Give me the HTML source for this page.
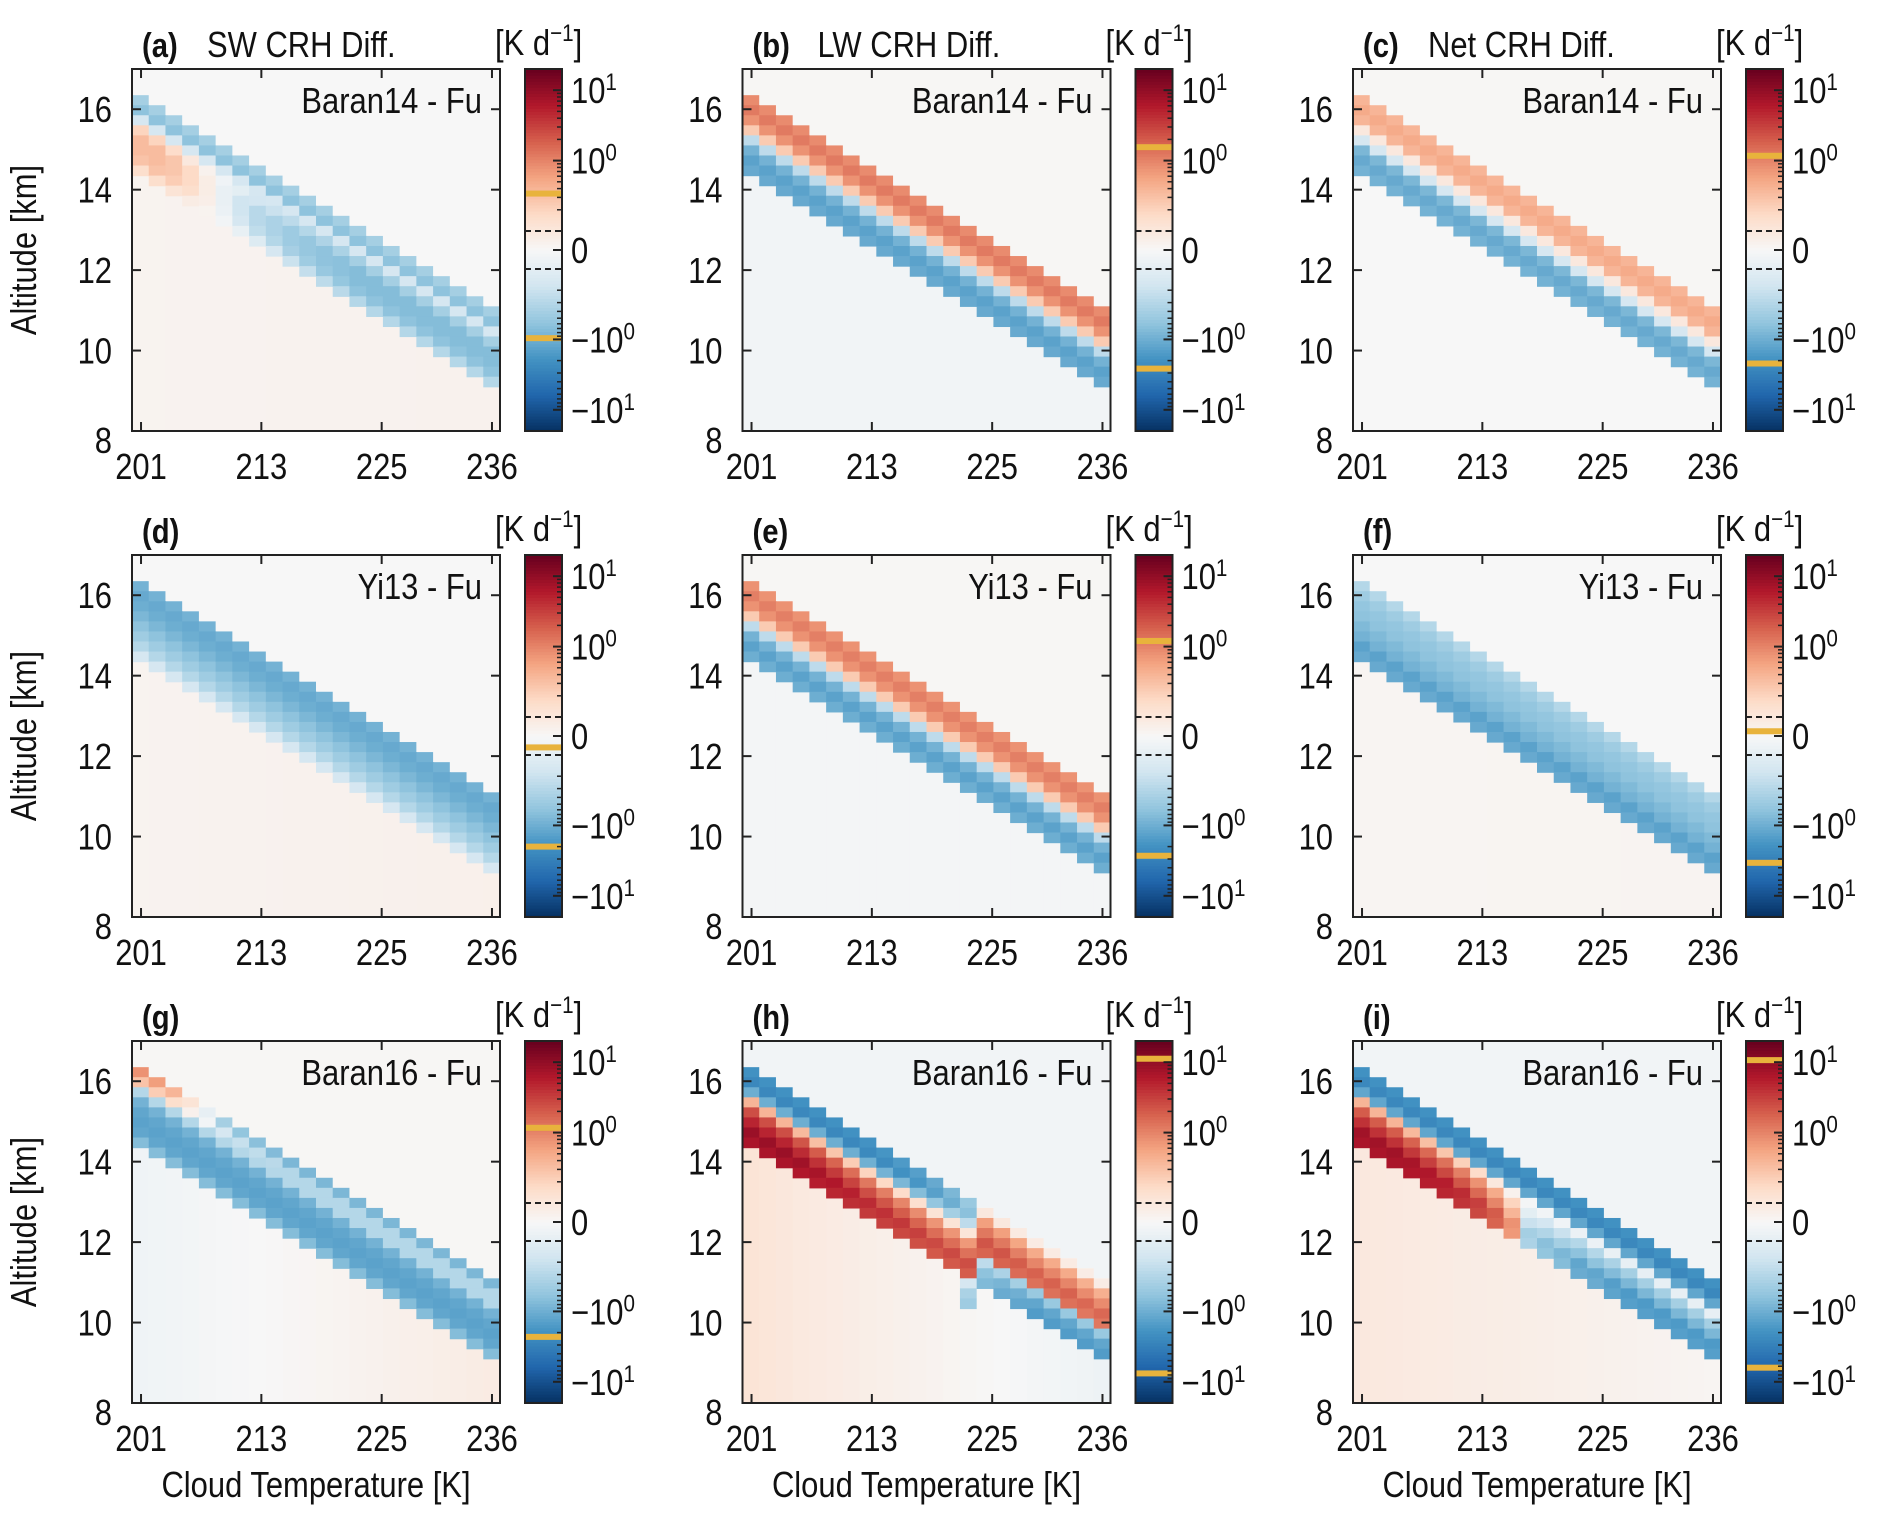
<!DOCTYPE html>
<html><head><meta charset="utf-8">
<style>
html,body{margin:0;padding:0;background:#fff;}
svg text{font-family:"Liberation Sans",sans-serif;fill:#111;}
</style></head>
<body>
<svg id="fig" width="1892" height="1524" viewBox="0 0 1892 1524" xmlns="http://www.w3.org/2000/svg"></svg>
<script>
// ---- shared axis data ----
const xTicks = [201, 213, 225, 236];
const yTicks = [8, 10, 12, 14, 16];
const cbTickVals = [10, 1, 0, -1, -10];
const cbTickLbls = ['10<tspan dy="-13" font-size="24">1</tspan>', '10<tspan dy="-13" font-size="24">0</tspan>', '0', '\u221210<tspan dy="-13" font-size="24">0</tspan>', '\u221210<tspan dy="-13" font-size="24">1</tspan>'];
const colTopKm = [16.35,16.1,15.85,15.6,15.35,15.1,14.85,14.6,14.35,14.1,13.85,13.6,13.35,13.1,12.85,12.6,12.35,12.1,11.85,11.6,11.35,11.1];

// ---- panel (a) ----
const bandA = [-0.4,-0.6,-0.15];
const tailA = [0.2,0.35,0.35,0.3,0.15];
const tailFadeA = [1,1,0.8,0.5,0.2,-0.2,-0.5,-0.8,-1,-1.3,-1.5,-1.7,-1.8,-2,-2,-2,-2,-2,-2,-2,-2,-2];
const bgA = [0, 0.03, 0.04];
const yellowA = [0.34, -0.96];
// ---- panel (b) ----
const bandB = [0.9,1.2,0.8,0.25,-0.25,-0.9,-1.3,-1.1];
const bgB = [0.01, -0.03, -0.03];
const yellowB = [1.55, -2.6];
// ---- panel (c) ----
const bandC = [0.4,0.5,0.4,0.1,-0.15,-0.8,-1.1,-0.9];
const bgC = [0.01, 0.0, 0.0];
const yellowC = [1.17, -2.2];
// ---- panel (d) ----
const bandD = [-0.9,-1.1,-1.0,-0.8,-0.6,-0.45,-0.3,-0.15];
const bgD = [0, 0.03, 0.05];
const yellowD = [-0.06, -2.0];
// ---- panel (e) ----
const bandE = [0.8,1.1,0.8,0.25,-0.25,-0.9,-1.3,-1.0];
const bgE = [0.01, -0.02, -0.02];
const yellowE = [1.2, -2.7];
// ---- panel (f) ----
const bandF = [-0.3,-0.45,-0.55,-0.6,-0.75,-0.9,-1.3,-1.1];
const bgF = [0, 0.02, 0.025];
const yellowF = [0.025, -3.4];
// ---- panel (g) ----
const bandG = [0.8,0.3,-0.3,-0.9,-1.2,-1.3,-1.2,-0.7];
const headFadeG = [1,0.8,0.5,0.15,-0.1,-0.5,-0.7,-0.8,-0.9,-1,-1,-1,-1,-1,-1,-1,-1,-1,-1,-1,-1,-1];
const bgG = [0.01, -0.04, 0.08];
const yellowG = [1.17, -2.3];
// ---- panel (h) ----
const bandH = [-2,-2.5,-1.0];
const headFadeH = [1,1,1,1,1,1,1,0.95,0.9,0.8,0.7,0.55,0.4,0.25,0,0,0,0,0,0,0,0];
const tailH = [0.4,2.5,5,9,7];
const tailFadeH = [1,1,1,0.9,0.8,0.7,0.6,0.5,0.45,0.4,0.35,0.3,0.3,0.28,0.25,0.25,0.22,0.2,0.2,0.2,0.18,0.18];
const tail2H = [-0.5,-1.2,-1.5];
const tail2FadeH = [0,0,0,0,0,0,0,0,0,0,0,0,0,0.3,0.5,0.7,0.8,1,1,1,1,1];
const bgH = [-0.03, 0.12, -0.05];
const yellowH = [11.2, -7.6];
// ---- panel (i) ----
const bandI = [-2,-2.5,-1.2];
const tailI = [0.4,2,4,8,7];
const tailFadeI = [1,1,1,0.9,0.8,0.7,0.55,0.4,0.25,0.1,-0.05,-0.08,-0.1,-0.15,-0.15,-0.18,-0.2,-0.2,-0.2,-0.2,-0.2,-0.2];
const bgI = [-0.03, 0.1, 0.02];
const yellowI = [10.7, -6.3];

const titles = ['SW CRH Diff.','LW CRH Diff.','Net CRH Diff.','','','','','',''];
const letters = ['(a)','(b)','(c)','(d)','(e)','(f)','(g)','(h)','(i)'];
const labels = ['Baran14 - Fu','Baran14 - Fu','Baran14 - Fu','Yi13 - Fu','Yi13 - Fu','Yi13 - Fu','Baran16 - Fu','Baran16 - Fu','Baran16 - Fu'];
const panels = [
 {band:bandA, tail:tailA, tailFade:tailFadeA, bg:bgA, yl:yellowA},
 {band:bandB, bg:bgB, yl:yellowB},
 {band:bandC, bg:bgC, yl:yellowC},
 {band:bandD, bg:bgD, yl:yellowD},
 {band:bandE, bg:bgE, yl:yellowE},
 {band:bandF, bg:bgF, yl:yellowF},
 {band:bandG, headFade:headFadeG, headN:2, bg:bgG, yl:yellowG},
 {band:bandH, headFade:headFadeH, headN:3, dropHead:true, tail:tailH, tailFade:tailFadeH, tail2:tail2H, tail2Fade:tail2FadeH, bg:bgH, yl:yellowH},
 {band:bandI, tail:tailI, tailFade:tailFadeI, bg:bgI, yl:yellowI}
];

// ---- colormap RdBu_r, symlog ----
const stops = ['#053061','#2166ac','#4393c3','#92c5de','#d1e5f0','#f7f7f7','#fddbc7','#f4a582','#d6604d','#b2182b','#67001f'];
function hex(h){return [parseInt(h.slice(1,3),16),parseInt(h.slice(3,5),16),parseInt(h.slice(5,7),16)];}
const stopRGB = stops.map(hex);
const LIN = 0.27, LT = 0.1, VMAX = 20;
function sl(v){const a=Math.abs(v);const p=a<LT?a/LT*LIN:LIN+Math.log10(a/LT);return v<0?-p:p;}
const PMAX = sl(VMAX);
function norm(v){let t=(sl(v)/PMAX+1)/2;return Math.max(0,Math.min(1,t));}
function cmap(t){const x=t*(stops.length-1);const i=Math.min(stops.length-2,Math.floor(x));const f=x-i;
 const a=stopRGB[i],b=stopRGB[i+1];return 'rgb('+a.map((c,k)=>Math.round(c+(b[k]-c)*f)).join(',')+')';}
function color(v){return cmap(norm(v));}

const NS='http://www.w3.org/2000/svg';
const svg=document.getElementById('fig');
function el(tag,attrs,parent){const e=document.createElementNS(NS,tag);for(const k in attrs)e.setAttribute(k,attrs[k]);(parent||svg).appendChild(e);return e;}
const FS=36, SX=0.86;
function txt(parent,x,y,anchor,extra,rot){
 const tr='translate('+x+','+y+')'+(rot?' rotate(-90)':'')+' scale('+SX+',1)';
 const a={x:0,y:0,'font-size':FS,'text-anchor':anchor||'start',transform:tr};
 for(const k in (extra||{}))a[k]=extra[k];
 return el('text',a,parent);
}

const AX_L0=132, AX_W=368, AX_T0=69, AX_H=362, DX=610.5, DY=486, CB_OFF=393, CB_W=37;
const XMIN=200.1, XMAX=236.8, YMIN=8, YMAX=17;

panels.forEach((P,idx)=>{
 const col=idx%3,row=Math.floor(idx/3);
 const L=AX_L0+col*DX, T=AX_T0+row*DY;
 const g=el('g',{});
 
 
 const xs=v=>L+(v-XMIN)/(XMAX-XMIN)*AX_W;
 const ys=v=>T+(YMAX-v)/(YMAX-YMIN)*AX_H;
 const ncol=colTopKm.length, cw=AX_W/ncol;
 const hm=el('g',{},g);
 
 
 for(let c=0;c<ncol;c++){
  const x0=L+c*cw;
  let cells=P.band.slice();
  if(P.headFade){
   for(let k=0;k<P.headN;k++)cells[k]*=P.headFade[c];
   if(P.dropHead&&P.headFade[c]===0)cells=cells.slice(P.headN);
  }
  if(P.tail){cells=cells.concat(P.tail.map(v=>v*P.tailFade[c]));}
  if(P.tail2&&P.tail2Fade[c]>0){cells=cells.concat(P.tail2.map(v=>v*P.tail2Fade[c]));}
  const top=colTopKm[c];
  const bot=top-0.25*cells.length;
  const fr=c/(ncol-1);
  const bgBelow=P.bg[1]+(P.bg[2]-P.bg[1])*fr;
  let r=el('rect',{x:x0,y:T,width:cw+0.6,height:ys(top)-T,fill:color(P.bg[0])},hm);
  
  
  r=el('rect',{x:x0,y:ys(bot),width:cw+0.6,height:Math.max(0,T+AX_H-ys(bot)),fill:color(bgBelow)},hm);
  
  
  cells.forEach((v,k)=>{
   const yt=top-0.25*k;
   if(ys(yt)>=T+AX_H)return;
   const h=Math.min(ys(yt-0.25),T+AX_H)-ys(yt);
   const rc=el('rect',{x:x0,y:ys(yt),width:cw+0.6,height:h+0.6,fill:color(v)},hm);
   
   
  });
 }
 const fr=el('rect',{x:L,y:T,width:AX_W,height:AX_H,fill:'none',stroke:'#222','stroke-width':2},g);
 
 
 xTicks.forEach(v=>{
  const x=xs(v);
  el('line',{x1:x,y1:T+AX_H,x2:x,y2:T+AX_H-9,stroke:'#222','stroke-width':2},g);
  el('line',{x1:x,y1:T,x2:x,y2:T+9,stroke:'#222','stroke-width':2},g);
  const t=txt(g,x,T+AX_H+48,'middle');
  t.textContent=v;
  
  
 });
 yTicks.forEach(v=>{
  const y=ys(v);
  el('line',{x1:L,y1:y,x2:L+9,y2:y,stroke:'#222','stroke-width':2},g);
  el('line',{x1:L+AX_W,y1:y,x2:L+AX_W-9,y2:y,stroke:'#222','stroke-width':2},g);
  const t=txt(g,L-20,y+(v===8?22:13),'end');
  t.textContent=v;
  
  
 });
 let t=txt(g,L+10,T-12,'start',{'font-weight':'bold','font-size':34});
 t.textContent=letters[idx];
 
 
 if(titles[idx]){
  t=txt(g,L+75,T-12,'start');
  t.textContent=titles[idx];
  
  
 }
 t=txt(g,L+AX_W-18,T+44,'end');
 t.textContent=labels[idx];
 
 
 if(col===0){
  t=txt(g,L-96,T+AX_H/2,'middle',{},true);
  t.textContent='Altitude [km]';
  
  
 }
 if(row===2){
  t=txt(g,L+AX_W/2,T+AX_H+94,'middle');
  t.textContent='Cloud Temperature [K]';
  
  
 }
 const CX=L+CB_OFF;
 const cb=el('g',{},g);
 
 
 const cbY=v=>T+AX_H/2-sl(v)/PMAX*(AX_H/2);
 const N=120;
 for(let i=0;i<N;i++){
  el('rect',{x:CX,y:T+AX_H*(1-(i+1)/N),width:CB_W,height:AX_H/N+0.7,fill:cmap((i+0.5)/N)},cb);
 }
 [LT,-LT].forEach(v=>{
  const d=el('line',{x1:CX,y1:cbY(v),x2:CX+CB_W,y2:cbY(v),stroke:'#222','stroke-width':2,'stroke-dasharray':'6,4'},cb);
  
  
 });
 P.yl.forEach(v=>{
  const yl=el('rect',{x:CX,y:cbY(v)-3,width:CB_W,height:6,fill:'#e8b33c'},cb);
  
  
 });
 el('rect',{x:CX,y:T,width:CB_W,height:AX_H,fill:'none',stroke:'#222','stroke-width':2},cb);
 [1,-1].forEach(s=>{[0.2,0.3,0.4,0.5,0.6,0.7,0.8,0.9,2,3,4,5,6,7,8,9,20].forEach(m=>{
  const y=cbY(s*m); if(y<T||y>T+AX_H)return;
  el('line',{x1:CX+CB_W,y1:y,x2:CX+CB_W-5,y2:y,stroke:'#222','stroke-width':1.5},cb);
 });});
 cbTickVals.forEach((v,i)=>{
  const y=cbY(v);
  el('line',{x1:CX+CB_W,y1:y,x2:CX+CB_W-9,y2:y,stroke:'#222','stroke-width':2},cb);
  const tt=txt(cb,CX+CB_W+9,y+13,'start');
  tt.innerHTML=cbTickLbls[i];
  
  
 });
 const u=txt(cb,CX-30,T-14,'start');
 u.innerHTML='[K d<tspan dy="-14" font-size="24">\u22121</tspan><tspan dy="14">]</tspan>';
 
 
});
</script>
</body></html>
